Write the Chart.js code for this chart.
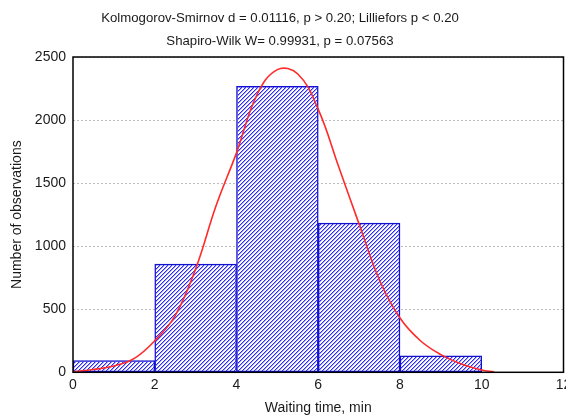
<!DOCTYPE html>
<html>
<head>
<meta charset="utf-8">
<script src="https://cdn.jsdelivr.net/npm/chart.js@4/dist/chart.umd.min.js"></script>
<style>
  html, body { margin: 0; padding: 0; background: #fff; }
  #wrap { width: 566px; height: 417px; position: relative; }
</style>
</head>
<body>
<div id="wrap"><canvas id="chart"></canvas></div>
<script>
// histogram bins (centres of 2-minute bins) and counts
const binCenters = [1, 3, 5, 7, 9];
const binCounts = [92, 858, 2268, 1183, 131];

// fitted normal curve
const curveX = [0, 0.5, 1, 1.5, 2, 2.5, 3, 3.5, 4, 4.5, 5, 5.5, 6, 6.5, 7, 7.5, 8, 8.5, 9, 9.5, 10, 10.3];
const curveY = [5, 22, 50, 110, 250, 450, 820, 1320, 1740, 2200, 2400, 2365, 2085, 1630, 1175, 730, 430, 250, 140, 65, 18, 5];

const xTickValues = [0, 2, 4, 6, 8, 10, 12];
const yTickValues = [0, 500, 1000, 1500, 2000, 2500];

const titleLines = [
  'Kolmogorov-Smirnov d = 0.01116, p > 0.20; Lilliefors p < 0.20',
  'Shapiro-Wilk W= 0.99931, p = 0.07563'
];

const FONT = '"Liberation Sans", Arial, sans-serif';
const TEXT = '#1a1a1a';
const BAR_INDEX = 1;

// "////" pixel hatching inside every bar, drawn right after the bar dataset
const hatch = {
  id: 'hatch',
  afterDatasetDraw(chart, args) {
    if (args.index !== BAR_INDEX) return;
    const { ctx } = chart;
    args.meta.data.forEach((bar) => {
      const { x, y, base, width } = bar.getProps(['x', 'y', 'base', 'width'], true);
      const left = Math.round(x - width / 2) + 1;
      const right = Math.round(x + width / 2) - 1;
      const top = Math.round(Math.min(y, base)) + 1;
      const bottom = Math.round(Math.max(y, base)) - 1;
      ctx.save();
      for (let py = top; py < bottom; py++) {
        for (let px = left; px < right; px++) {
          const k = (px + py) % 4;
          if (k === 0) {
            ctx.fillStyle = '#2a2aff';
            ctx.fillRect(px, py, 1, 1);
          } else if (k === 1) {
            ctx.fillStyle = '#a4a4ff';
            ctx.fillRect(px, py, 1, 1);
          }
        }
      }
      ctx.restore();
    });
  }
};

const frameAndTitle = {
  id: 'frameAndTitle',
  afterDraw(chart) {
    const { ctx, chartArea: a } = chart;
    ctx.save();
    ctx.strokeStyle = '#000';
    ctx.lineWidth = 1.5;
    ctx.strokeRect(a.left, a.top, a.right - a.left, a.bottom - a.top);

    ctx.fillStyle = TEXT;
    ctx.font = '13.2px ' + FONT;
    ctx.textAlign = 'center';
    ctx.textBaseline = 'middle';
    const cx = chart.width / 2 - 3;
    ctx.fillText(titleLines[0], cx, 18);
    ctx.fillText(titleLines[1], cx, 41);
    ctx.restore();
  }
};

Chart.defaults.font.family = FONT;
Chart.defaults.font.size = 14;
Chart.defaults.color = TEXT;

new Chart(document.getElementById('chart'), {
  type: 'bar',
  data: {
    datasets: [
      {
        type: 'line',
        data: curveX.map((x, i) => ({ x, y: curveY[i] })),
        borderColor: '#ff2a2a',
        borderWidth: 1.6,
        pointRadius: 0,
        tension: 0.4,
        fill: false,
        order: 0
      },
      {
        type: 'bar',
        data: binCenters.map((x, i) => ({ x, y: binCounts[i] })),
        backgroundColor: '#ffffff',
        borderColor: '#1010d0',
        borderWidth: 1.5,
        borderSkipped: false,
        barPercentage: 1,
        categoryPercentage: 1,
        order: 1
      }
    ]
  },
  options: {
    responsive: true,
    maintainAspectRatio: false,
    animation: false,
    layout: { padding: { top: 57, right: 2.5, left: 0, bottom: 0 } },
    plugins: {
      legend: { display: false },
      tooltip: { enabled: false }
    },
    scales: {
      x: {
        type: 'linear',
        min: 0,
        max: 12,
        offset: false,
        grid: { display: false, offset: false, drawTicks: false },
        border: { display: false },
        afterBuildTicks: (scale) => { scale.ticks = xTickValues.map((v) => ({ value: v })); },
        afterFit: (scale) => { scale.height = 44.7; scale.paddingRight = 0; },
        ticks: { padding: 4, maxRotation: 0, callback: (v) => String(v) },
        title: { display: true, text: 'Waiting time, min', padding: { top: 0, bottom: 0 } }
      },
      y: {
        min: 0,
        max: 2500,
        grid: { color: '#bdbdbd', drawTicks: false },
        border: { display: false, dash: [2, 2] },
        afterBuildTicks: (scale) => { scale.ticks = yTickValues.map((v) => ({ value: v })); },
        afterFit: (scale) => { scale.width = 73; },
        ticks: { padding: 7, callback: (v) => String(v) },
        title: { display: true, text: 'Number of observations', padding: { top: 8.6, bottom: 0 } }
      }
    }
  },
  plugins: [hatch, frameAndTitle]
});
</script>
</body>
</html>
